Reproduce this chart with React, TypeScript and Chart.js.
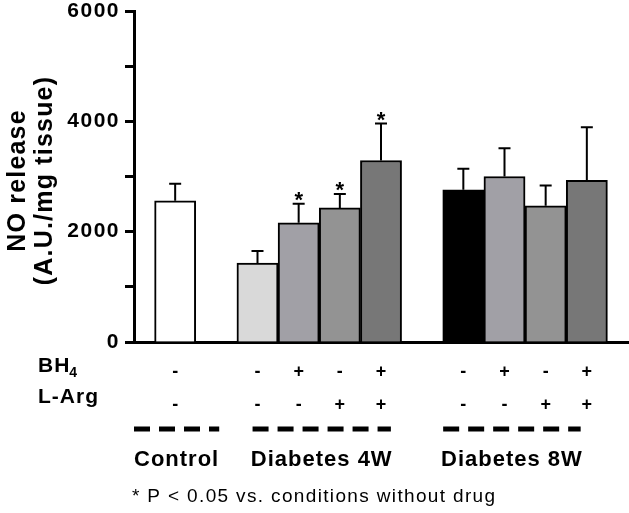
import React, { useEffect, useRef } from "react";
import { Chart, registerables } from "chart.js";

Chart.register(...registerables);

// ---- data ----
const barPositions = [0, 2, 3, 4, 5, 7, 8, 9, 10];
const barValues = [2560, 1430, 2160, 2430, 3290, 2760, 3000, 2470, 2930];
const barErrors = [310, 220, 345, 255, 670, 380, 510, 365, 965];
const barColors = ["#ffffff", "#d9d9d9", "#a1a0a6", "#939393", "#777777", "#000000", "#a1a0a6", "#939393", "#777777"];
const significant = [false, false, true, true, true, false, false, false, false];
const bh4Signs = ["-", "-", "+", "-", "+", "-", "+", "-", "+"];
const lArgSigns = ["-", "-", "-", "+", "+", "-", "-", "+", "+"];
const groupNames = ["Control", "Diabetes 4W", "Diabetes 8W"];
const yTicks = [0, 2000, 4000, 6000];
const yTitle = ["NO release", "(A.U./mg tissue)"];
const footnote = "* P < 0.05 vs. conditions without drug";

// layout (scale units along x) for group dashed lines
const groupSpans = [
  [-1.0, 1.07],
  [1.88, 5.24],
  [6.51, 9.85],
];

const FONT = "'Liberation Sans', Arial, Helvetica, sans-serif";

const overlay = {
  id: "overlay",
  beforeDraw(chart: any) {
    chart.ctx.letterSpacing = "1.5px";
  },
  afterDatasetsDraw(chart: any) {
    const ctx = chart.ctx;
    const ys = chart.scales.y;
    const meta = chart.getDatasetMeta(0);
    ctx.save();
    ctx.strokeStyle = "#000";
    ctx.lineWidth = 2;
    meta.data.forEach((bar: any, i: number) => {
      const top = ys.getPixelForValue(barValues[i] + barErrors[i]);
      ctx.beginPath();
      ctx.moveTo(bar.x, bar.y);
      ctx.lineTo(bar.x, top);
      ctx.moveTo(bar.x - 6, top);
      ctx.lineTo(bar.x + 6, top);
      ctx.stroke();
      if (significant[i]) {
        ctx.fillStyle = "#000";
        ctx.font = `bold 22px ${FONT}`;
        ctx.letterSpacing = "0px";
        ctx.textAlign = "center";
        ctx.textBaseline = "alphabetic";
        ctx.fillText("*", bar.x, top + 3);
      }
    });
    ctx.restore();
  },
  afterDraw(chart: any) {
    const ctx = chart.ctx;
    const xs = chart.scales.x;
    const area = chart.chartArea;
    ctx.save();
    ctx.fillStyle = "#000";
    // y-axis title
    const cy = (area.top + area.bottom) / 2 + 4;
    ctx.font = `bold 25px ${FONT}`;
    ctx.letterSpacing = "1.2px";
    ctx.textAlign = "center";
    ctx.textBaseline = "alphabetic";
    const baseX = [25, 52];
    yTitle.forEach((t, k) => {
      ctx.save();
      ctx.translate(baseX[k], cy);
      ctx.rotate(-Math.PI / 2);
      ctx.fillText(t, 0, 0);
      ctx.restore();
    });

    // row labels
    ctx.textAlign = "left";
    ctx.font = `bold 21px ${FONT}`;
    ctx.letterSpacing = "1px";
    ctx.fillText("BH", 38, 372);
    const bhW = ctx.measureText("BH").width;
    ctx.font = `bold 14px ${FONT}`;
    ctx.fillText("4", 38 + bhW - 1, 377);
    ctx.font = `bold 21px ${FONT}`;
    ctx.fillText("L-Arg", 38, 403);

    // signs
    ctx.textAlign = "center";
    ctx.font = `bold 18px ${FONT}`;
    ctx.letterSpacing = "0px";
    barPositions.forEach((p, i) => {
      const x = xs.getPixelForValue(p);
      ctx.fillText(bh4Signs[i], x, 377);
      ctx.fillText(lArgSigns[i], x, 410);
    });

    // dashed group lines and labels
    ctx.strokeStyle = "#000";
    ctx.lineWidth = 5;
    ctx.setLineDash([16, 9]);
    ctx.font = `bold 22px ${FONT}`;
    ctx.letterSpacing = "1px";
    groupSpans.forEach((s, g) => {
      const x1 = xs.getPixelForValue(s[0]);
      const x2 = xs.getPixelForValue(s[1]);
      ctx.beginPath();
      ctx.moveTo(x1, 429);
      ctx.lineTo(x2, 429);
      ctx.stroke();
      ctx.fillText(groupNames[g], (x1 + x2) / 2, 466);
    });
    ctx.setLineDash([]);

    // footnote
    ctx.textAlign = "left";
    ctx.font = `19px ${FONT}`;
    ctx.letterSpacing = "1.35px";
    ctx.fillText(footnote, 132, 502);
    ctx.restore();
    ctx.letterSpacing = "0px";
  },
};

export default function App() {
  const ref = useRef<HTMLCanvasElement>(null);
  useEffect(() => {
    if (!ref.current) return;
    const chart = new Chart(ref.current, {
      type: "bar",
      data: {
        datasets: [
          {
            data: barPositions.map((p, i) => ({ x: p, y: barValues[i] })),
            backgroundColor: barColors,
            borderColor: "#000",
            borderWidth: 2,
            categoryPercentage: 1,
            barPercentage: 1,
          } as any,
        ],
      },
      options: {
        responsive: false,
        animation: false,
        events: [],
        layout: { padding: { left: 0, right: 1, top: 11, bottom: 0 } },
        plugins: { legend: { display: false }, tooltip: { enabled: false } },
        scales: {
          x: {
            type: "linear",
            min: -1,
            max: 11,
            offset: false,
            grid: { display: false },
            ticks: { display: false },
            border: { display: true, color: "#000", width: 3 },
            afterFit: (s: any) => {
              s.height = 171;
              s.paddingLeft = 0;
              s.paddingRight = 0;
            },
          },
          y: {
            min: 0,
            max: 6000,
            afterBuildTicks: (s: any) => {
              s.ticks = [0, 1000, 2000, 3000, 4000, 5000, 6000].map((v) => ({ value: v }));
            },
            ticks: {
              callback: (v: any) => (yTicks.includes(Number(v)) ? String(v) : ""),
              color: "#000",
              font: { family: FONT, size: 21, weight: "bold" },
              padding: 5,
              autoSkip: false,
            },
            grid: {
              drawOnChartArea: false,
              drawTicks: true,
              tickLength: 9,
              tickWidth: 3,
              tickColor: "#000",
              color: "#000",
            },
            border: { display: true, color: "#000", width: 3 },
            afterFit: (s: any) => {
              s.width = 134;
              s.paddingTop = 0;
              s.paddingBottom = 0;
            },
          },
        },
      },
      plugins: [overlay],
    });
    return () => chart.destroy();
  }, []);
  return (
    <div style={{ position: "absolute", left: 0, top: 0, width: 629, height: 513 }}>
      <canvas ref={ref} width={629} height={513} style={{ display: "block" }} />
    </div>
  );
}
